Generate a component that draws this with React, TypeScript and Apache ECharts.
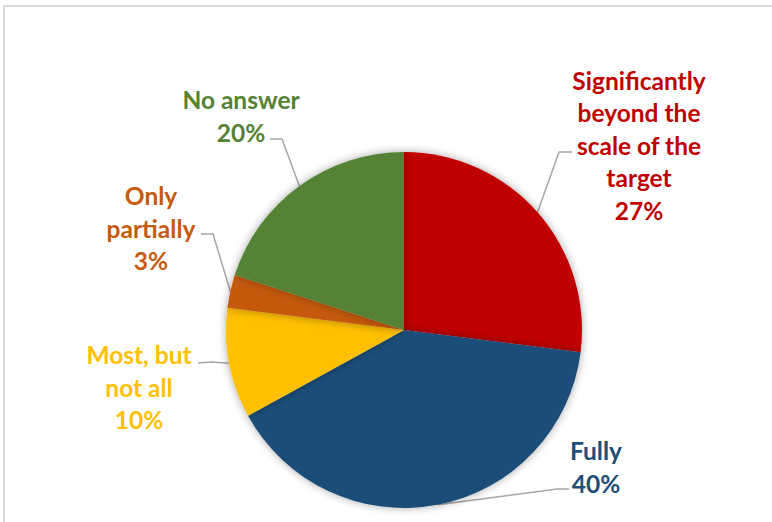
import React, { useEffect, useRef } from "react";
import * as echarts from "echarts";

const categories = [
  "Significantly\nbeyond the\nscale of the\ntarget",
  "Fully",
  "Most, but\nnot all",
  "Only\npartially",
  "No answer",
];
const values = [27, 40, 10, 3, 20];
const colors = ["#C00000", "#1F4E79", "#FFC000", "#C55A11", "#548235"];
// label centre positions (layout only)
const labelPos: [number, number][] = [
  [639, 145],
  [596, 467],
  [139, 387],
  [151, 228],
  [241, 116],
];
// leader line: end point next to label, and elbow point (layout only)
const lineEnd: [number, number][] = [
  [572, 152],
  [569, 489],
  [198, 363],
  [201, 234],
  [270, 139],
];
const lineElbow: [number, number][] = [
  [559, 152],
  [557, 489],
  [211, 362],
  [213, 234],
  [282, 139],
];

export default function App() {
  const ref = useRef<HTMLDivElement>(null);
  useEffect(() => {
    if (!ref.current) return;
    const chart = echarts.init(ref.current, null, { renderer: "svg" });
    chart.setOption({
      animation: false,
      backgroundColor: "#ffffff",
      graphic: [
        {
          type: "rect",
          shape: { x: 4, y: 6, width: 900, height: 700 },
          style: { fill: "none", stroke: "#D9D9D9", lineWidth: 2 },
          silent: true,
        },
      ],
      series: [
        {
          type: "pie",
          center: [404, 330],
          radius: 178,
          startAngle: 90,
          clockwise: true,
          itemStyle: {
            shadowBlur: 8,
            shadowColor: "rgba(0,0,0,0.35)",
            borderWidth: 0,
          },
          label: {
            show: true,
            position: "outside",
            fontFamily: "Lato",
            fontWeight: "bold",
            fontSize: 24.5,
            lineHeight: 32.5,
            align: "center",
            formatter: (p: any) => `${p.name}\n${Math.round(p.percent)}%`,
          },
          labelLine: {
            show: true,
            length: 20,
            length2: 14,
            lineStyle: { color: "#A6A6A6", width: 1.5 },
          },
          labelLayout: (params: any) => {
            const i = params.dataIndex;
            const pos = labelPos[i];
            const res: any = {
              x: pos[0],
              y: pos[1],
              align: "center",
              verticalAlign: "middle",
            };
            const pts = params.labelLinePoints;
            if (pts && pts[0]) {
              res.labelLinePoints = [
                [pts[0][0], pts[0][1]],
                lineElbow[i],
                lineEnd[i],
              ];
            }
            return res;
          },
          emphasis: { disabled: true },
          data: categories.map((name, i) => ({
            name,
            value: values[i],
            itemStyle: { color: colors[i] },
            label: { color: colors[i] },
          })),
        },
      ],
    });
    return () => chart.dispose();
  }, []);
  return (
    <div
      ref={ref}
      style={{ position: "fixed", left: 0, top: 0, width: 772, height: 522 }}
    />
  );
}
